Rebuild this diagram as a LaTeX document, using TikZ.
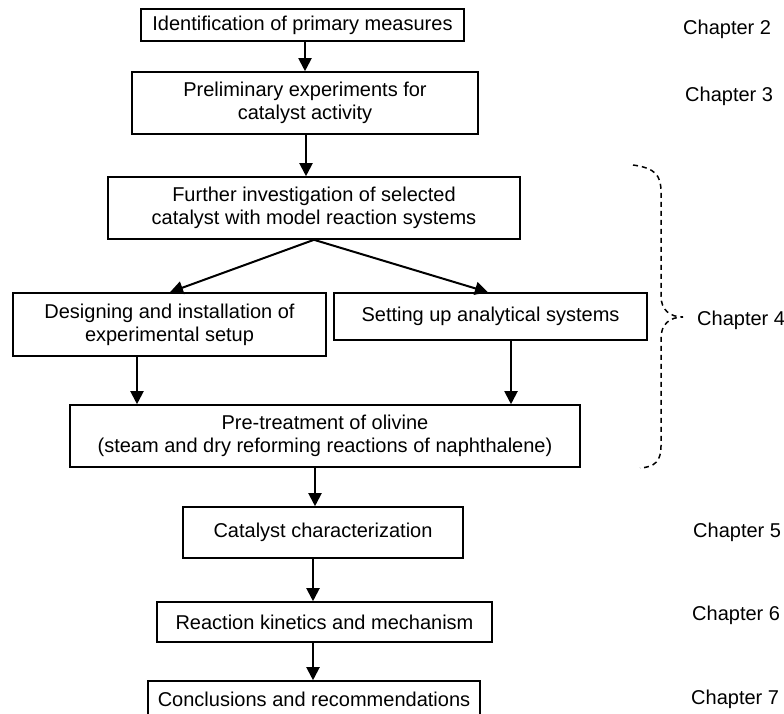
\documentclass[tikz,border=0pt]{standalone}
\usepackage{fontspec}
\setmainfont{Liberation Sans}
\usetikzlibrary{arrows.meta}
\begin{document}
\tikzset{
  box/.style={draw, line width=1.6pt, inner sep=0pt, align=center, font=\fontsize{20}{23}\selectfont},
  arr/.style={line width=2pt, -{Triangle[width=13pt,length=13pt]}},
  chap/.style={anchor=base west, inner sep=0pt, font=\fontsize{20}{23}\selectfont},
  bracestyle/.style={line width=1.5pt, dash pattern=on 5pt off 4pt}
}
\begin{tikzpicture}[x=1pt,y=-1pt]
\clip (0,0) rectangle (784,713);
\node[box, minimum width=323, minimum height=32] (b1) at (302.5,25) {Identification of primary measures};
\node[box, minimum width=346, minimum height=62] (b2) at (305,103) {Preliminary experiments for\\catalyst activity};
\node[box, minimum width=412, minimum height=62] (b3) at (314,208) {Further investigation of selected\\catalyst with model reaction systems};
\node[box, minimum width=313, minimum height=63] (b4) at (169.5,324.5) {Designing and installation of\\experimental setup};
\node[box, minimum width=313, minimum height=47] (b5) at (490.5,316.5) {Setting up analytical systems};
\node[box, minimum width=510, minimum height=62] (b6) at (325,436) {Pre-treatment of olivine\\(steam and dry reforming reactions of naphthalene)};
\node[box, minimum width=280, minimum height=51] (b7) at (323,532.5) {Catalyst characterization};
\node[box, minimum width=335, minimum height=40] (b8) at (324.5,622) {Reaction kinetics and mechanism};
\node[box, minimum width=332, minimum height=36] (b9) at (314,699) {Conclusions and recommendations};

\draw[arr] (b2.north |- b1.south) -- (b2.north);
\draw[arr] ([xshift=1pt]b2.south) -- ([xshift=1pt]b2.south |- b3.north);
\draw[arr] (b3.south) -- ([xshift=0.5pt]b4.north);
\draw[arr] (b3.south) -- ([xshift=-2.5pt]b5.north);
\draw[arr] ([xshift=-32.5pt]b4.south) -- ([xshift=-32.5pt]b4.south |- b6.north);
\draw[arr] ([xshift=20.5pt]b5.south) -- ([xshift=20.5pt]b5.south |- b6.north);
\draw[arr] ([xshift=-10pt]b6.south) -- ([xshift=-10pt]b6.south |- b7.north);
\draw[arr] ([xshift=-10pt]b7.south) -- ([xshift=-10pt]b7.south |- b8.north);
\draw[arr] ([xshift=-11.5pt]b8.south) -- ([xshift=-11.5pt]b8.south |- b9.north);

\node[chap] (c2) at (683,34) {Chapter 2};
\node[chap] (c3) at (685,101) {Chapter 3};
\node[chap] (c4) at (697,325) {Chapter 4};
\node[chap] (c5) at (693,537) {Chapter 5};
\node[chap] (c6) at (692,620) {Chapter 6};
\node[chap] (c7) at (691,704) {Chapter 7};

\draw[bracestyle] (633,165) .. controls (655,168) and (661,175) .. (661,192) -- (661,296)
  .. controls (661,310) and (670,317) .. (683,317)
  .. controls (670,317) and (661,324) .. (661,338) -- (661,446)
  .. controls (661,461) and (655,467) .. (640,468);
\end{tikzpicture}
\end{document}
